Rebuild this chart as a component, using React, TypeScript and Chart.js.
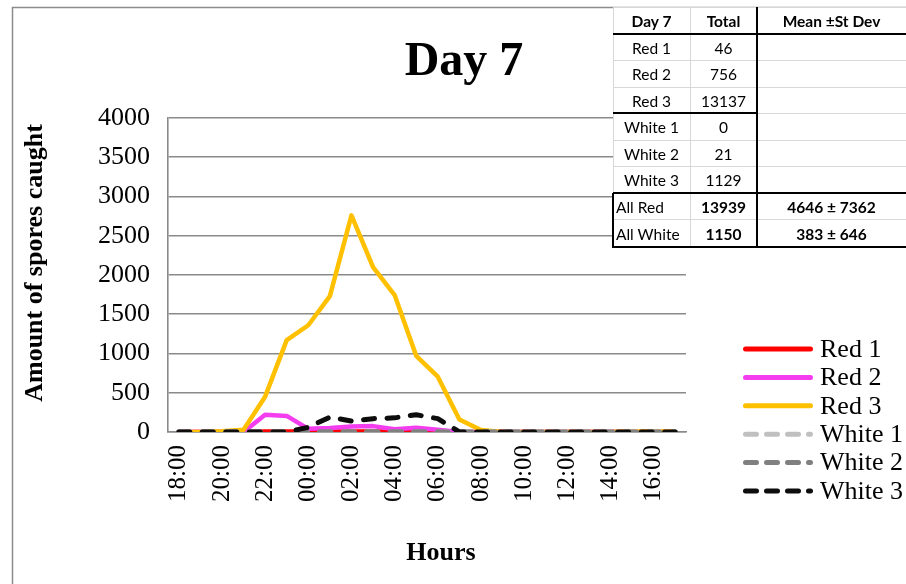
import React, { useEffect, useRef } from 'react';
import { Chart, registerables } from 'chart.js';

Chart.register(...registerables);

// ---- data ----
const hours = ['18:00', '19:00', '20:00', '21:00', '22:00', '23:00', '00:00', '01:00', '02:00', '03:00', '04:00', '05:00', '06:00', '07:00', '08:00', '09:00', '10:00', '11:00', '12:00', '13:00', '14:00', '15:00', '16:00', '17:00'];
const red1 = [0, 0, 0, 0, 5, 5, 5, 5, 6, 5, 5, 5, 5, 0, 0, 0, 0, 0, 0, 0, 0, 0, 0, 0];
const red2 = [0, 0, 0, 0, 220, 205, 40, 50, 70, 75, 35, 55, 30, 0, 0, 0, 0, 0, 0, 0, 0, 0, 0, 0];
const red3 = [0, 0, 10, 30, 450, 1170, 1360, 1730, 2760, 2100, 1745, 970, 705, 160, 25, 0, 0, 0, 0, 0, 0, 5, 5, 5];
const white1 = [0, 0, 0, 0, 0, 0, 0, 0, 0, 0, 0, 0, 0, 0, 0, 0, 0, 0, 0, 0, 0, 0, 0, 0];
const white2 = [0, 0, 0, 0, 0, 0, 3, 3, 3, 3, 3, 3, 3, 0, 0, 0, 0, 0, 0, 0, 0, 0, 0, 0];
const white3 = [0, 0, 0, 0, 0, 0, 60, 190, 140, 170, 180, 220, 170, 0, 0, 0, 0, 0, 0, 0, 0, 0, 0, 0];

const seriesNames = ['Red 1', 'Red 2', 'Red 3', 'White 1', 'White 2', 'White 3'];
const seriesValues = [red1, red2, red3, white1, white2, white3];
const seriesColors = ['#FF0000', '#F53DF0', '#FFC000', '#C0C0C0', '#808080', '#0D0D0D'];
const seriesDashed = [false, false, false, true, true, true];

const yMin = 0;
const yMax = 4000;
const yStep = 500;

const chartTitle = 'Day 7';
const yTitle = 'Amount of spores caught';
const xTitle = 'Hours';

const tableHeader = ['Day 7', 'Total', 'Mean \u00B1St Dev'];
const tableNames = ['Red 1', 'Red 2', 'Red 3', 'White 1', 'White 2', 'White 3', 'All Red', 'All White'];
const tableTotals = ['46', '756', '13137', '0', '21', '1129', '13939', '1150'];
const tableMeans = ['', '', '', '', '', '', '4646 \u00B1 7362', '383 \u00B1 646'];

// ---- layout constants for the table ----
const colX = [613, 690, 757, 906];
const rowY = [7, 33.5, 60.5, 87, 113, 140, 166, 192.5, 219.5, 246.5];

const SERIF = '"Liberation Serif", "Times New Roman", serif';

const decor = {
  id: 'decor',
  beforeDraw(chart: any) {
    const ctx = chart.ctx;
    ctx.save();
    ctx.fillStyle = '#ffffff';
    ctx.fillRect(0, 0, chart.width, chart.height);
    ctx.strokeStyle = '#8c8c8c';
    ctx.lineWidth = 1.5;
    ctx.strokeRect(12.5, 7.5, 1000, 1000);
    ctx.restore();
  },
  afterDraw(chart: any) {
    const ctx = chart.ctx;
    ctx.save();
    ctx.fillStyle = '#000';
    ctx.textAlign = 'center';
    ctx.textBaseline = 'alphabetic';
    ctx.font = `bold 48px ${SERIF}`;
    ctx.fillText(chartTitle, 464, 75);

    ctx.font = `bold 26px ${SERIF}`;
    ctx.textBaseline = 'middle';
    ctx.fillText(xTitle, 441, 553);
    ctx.save();
    ctx.translate(35, 263);
    ctx.rotate(-Math.PI / 2);
    ctx.fillText(yTitle, 0, 0);
    ctx.restore();

    // legend
    chart.data.datasets.forEach((ds: any, i: number) => {
      const y = 349 + i * 28.4;
      ctx.beginPath();
      ctx.strokeStyle = ds.borderColor;
      ctx.lineWidth = 5;
      ctx.lineCap = 'round';
      ctx.setLineDash(seriesDashed[i] ? [11, 10] : []);
      ctx.moveTo(745.5, y);
      ctx.lineTo(810.5, y);
      ctx.stroke();
      ctx.setLineDash([]);
      ctx.font = `26px ${SERIF}`;
      ctx.textAlign = 'left';
      ctx.textBaseline = 'middle';
      ctx.fillStyle = '#000';
      ctx.fillText(ds.label, 820, y + 1);
    });
    ctx.restore();
  },
};

function DataTable() {
  const cells: any[] = [];
  const rows = [tableHeader, ...tableNames.map((n, i) => [n, tableTotals[i], tableMeans[i]])];
  rows.forEach((row, r) => {
    row.forEach((txt, c) => {
      const isAll = r >= 7;
      const bold = r === 0 || (isAll && c > 0);
      cells.push(
        <div
          key={`c${r}-${c}`}
          style={{
            position: 'absolute',
            left: colX[c],
            top: rowY[r],
            width: colX[c + 1] - colX[c],
            height: rowY[r + 1] - rowY[r],
            display: 'flex',
            alignItems: 'center',
            justifyContent: isAll && c === 0 ? 'flex-start' : 'center',
            paddingLeft: isAll && c === 0 ? 3 : 0,
            paddingTop: 1,
            boxSizing: 'border-box',
            fontFamily: 'Lato, "Liberation Sans", sans-serif',
            fontSize: 15.5,
            fontWeight: bold ? 700 : 400,
            color: '#000',
            whiteSpace: 'nowrap',
          }}
        >
          {txt}
        </div>
      );
    });
  });
  const lines: any[] = [];
  const hline = (key: string, x1: number, x2: number, y: number, w: number, color: string) =>
    lines.push(<div key={key} style={{ position: 'absolute', left: x1, top: y - w / 2, width: x2 - x1, height: w, background: color }} />);
  const vline = (key: string, x: number, y1: number, y2: number, w: number, color: string) =>
    lines.push(<div key={key} style={{ position: 'absolute', left: x - w / 2, top: y1, width: w, height: y2 - y1, background: color }} />);
  const light = '#d6d8da';
  rowY.forEach((y, i) => hline(`h${i}`, colX[0], colX[3], y, 1, light));
  vline('v0', colX[0], rowY[0], rowY[9], 1, light);
  vline('v1', colX[1], rowY[0], rowY[9], 1, light);
  hline('b1', colX[0], colX[3], rowY[1], 2, '#000');
  hline('b2', colX[0], colX[2], rowY[4], 1.2, '#000');
  hline('b3', colX[0], colX[3], rowY[7], 2, '#000');
  hline('b4', colX[0], colX[3], rowY[9], 2, '#000');
  vline('bv', colX[2], rowY[0], rowY[9] + 1, 2, '#000');
  vline('bl', colX[0], rowY[7], rowY[9] + 1, 1.5, '#000');
  return (
    <div style={{ position: 'absolute', left: 0, top: 0 }}>
      <div style={{ position: 'absolute', left: colX[0], top: rowY[0], width: colX[3] - colX[0], height: rowY[9] - rowY[0] + 1, background: '#fff' }} />
      {cells}
      {lines}
    </div>
  );
}

export default function App() {
  const ref = useRef<HTMLCanvasElement>(null);
  useEffect(() => {
    document.body.style.margin = '0';
    const canvas = ref.current;
    if (!canvas) return;
    const datasets = seriesNames.map((name, i) => ({
      label: name,
      data: seriesValues[i],
      borderColor: seriesColors[i],
      backgroundColor: seriesColors[i],
      borderWidth: seriesDashed[i] ? 5 : 4.5,
      borderDash: seriesDashed[i] ? [11, 12.5] : [],
      borderCapStyle: seriesDashed[i] ? 'round' : 'butt',
      borderJoinStyle: 'round',
      pointRadius: 0,
      tension: 0,
      fill: false,
      order: seriesNames.length - i,
    }));
    const chart = new Chart(canvas, {
      type: 'line',
      data: { labels: hours, datasets: datasets as any },
      options: {
        animation: false,
        responsive: false,
        maintainAspectRatio: false,
        layout: { padding: { left: 0, top: 118, right: 220, bottom: 0 } },
        plugins: {
          legend: { display: false },
          title: { display: false },
          tooltip: { enabled: false },
        },
        scales: {
          x: {
            type: 'category',
            offset: true,
            grid: { display: false, drawTicks: false },
            border: { display: true, color: '#8a8a8a', width: 1.6 },
            afterFit: (s: any) => { s.height = 152; },
            ticks: {
              autoSkip: false,
              minRotation: 90,
              maxRotation: 90,
              padding: 13,
              color: '#000',
              font: { family: SERIF, size: 25 },
              callback: (_v: any, i: number) => (i % 2 === 0 ? hours[i] : ''),
            },
          },
          y: {
            min: yMin,
            max: yMax,
            grid: { color: '#8a8a8a', lineWidth: 1.6, drawTicks: false },
            border: { display: true, color: '#8a8a8a', width: 1.6 },
            afterFit: (s: any) => { s.width = 168; },
            ticks: {
              stepSize: yStep,
              padding: 18,
              color: '#000',
              font: { family: SERIF, size: 26 },
              callback: (v: any) => String(v),
            },
          },
        },
      },
      plugins: [decor],
    } as any);
    return () => chart.destroy();
  }, []);
  return (
    <div style={{ position: 'relative', width: 906, height: 584, overflow: 'hidden', background: '#fff' }}>
      <canvas ref={ref} width={906} height={584} style={{ display: 'block' }} />
      <DataTable />
    </div>
  );
}
